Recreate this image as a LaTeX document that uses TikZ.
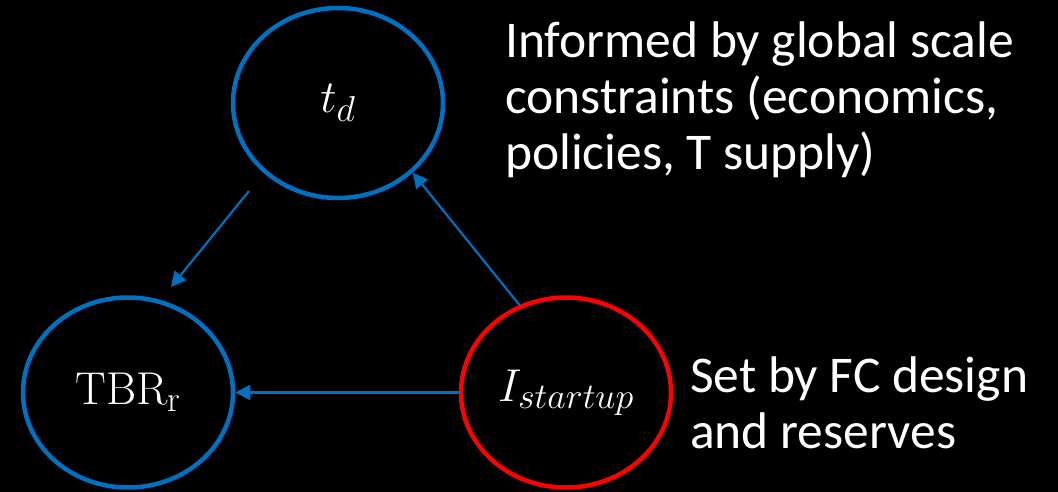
\RequirePackage{fix-cm}
\documentclass[tikz,border=0pt]{standalone}
\usepackage{fontspec}
\setsansfont{Carlito}
\DeclareMathSizes{46}{46}{36}{28}
\usetikzlibrary{arrows.meta,shapes.geometric}
\definecolor{linkblue}{HTML}{0070C0}
\definecolor{keyred}{HTML}{FF0000}
\tikzset{
  var/.style={ellipse, draw=linkblue, line width=4.5pt, minimum width=210pt,
    minimum height=190pt, inner sep=0pt, text=white,
    font=\fontsize{46}{52}\selectfont},
  keyvar/.style={var, draw=keyred},
  link/.style={draw=linkblue, line width=2.2pt,
    -{Triangle[length=15pt,width=15pt]}},
  note/.style={text=white, align=left, inner sep=0pt,
    font=\sffamily\fontsize{51.5}{56}\selectfont}
}
\begin{document}
\begin{tikzpicture}[x=1pt,y=-1pt]
  \fill[black] (0,0) rectangle (1058,492);
  \useasboundingbox (0,0) rectangle (1058,492);

  % the three quantities
  \node[var]    (td)  at (338,103)   {$t_d$};
  \node[var]    (tbr) at (128,392.5) {$\mathrm{TBR_r}$};
  \node[keyvar] (ist) at (566,392.5) {$I_{startup}$};

  % free ends of the doubling-time link
  \coordinate (tdout) at (249,191);
  \coordinate (tbrin) at (171,287);

  % dependencies
  \draw[link] (tdout) -- (tbrin);
  \draw[link] (ist.118) -- (td.-43);
  \draw[link] (ist.west) -- (tbr.east);

  % annotations (anchored on the baseline of their last line)
  \node[note, anchor=base west] (global) at (505,170)
    {Informed by global scale\\constraints (economics,\\policies, T supply)};
  \node[note, anchor=base west] (design) at (690,448)
    {Set by FC design\\and reserves};
\end{tikzpicture}
\end{document}
